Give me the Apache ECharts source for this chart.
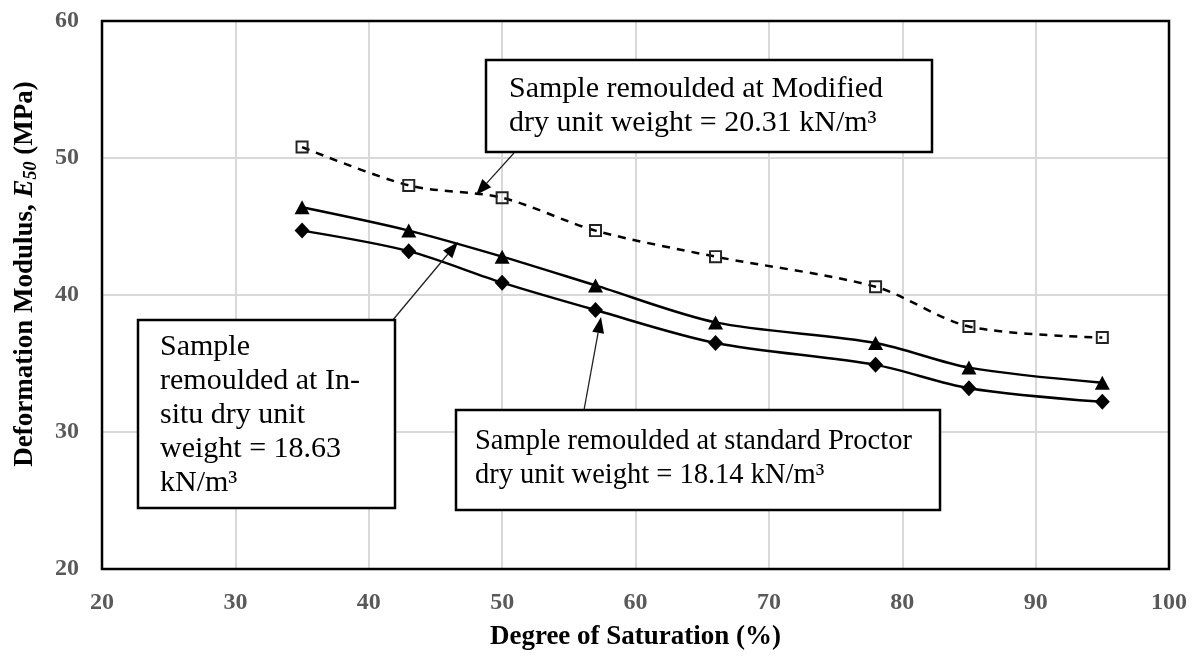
<!DOCTYPE html>
<html>
<head>
<meta charset="utf-8">
<script src="https://cdn.jsdelivr.net/npm/echarts@6/dist/echarts.min.js"></script>
<style>html,body{margin:0;padding:0;background:#fff;}#c{width:1201px;height:659px;}</style>
</head>
<body>
<div id="c"></div>
<script>
const saturation = [35, 43, 50, 57, 66, 78, 85, 95];
const modified = [50.8, 48.0, 47.1, 44.7, 42.8, 40.6, 37.7, 36.9];
const insitu = [46.4, 44.7, 42.8, 40.7, 38.0, 36.5, 34.7, 33.6];
const proctor = [44.7, 43.2, 40.9, 38.9, 36.5, 34.9, 33.2, 32.2];
const xTicks = [20, 30, 40, 50, 60, 70, 80, 90, 100];
const yTicks = [20, 30, 40, 50, 60];
const seriesNames = ['Modified', 'In-situ', 'Standard Proctor'];
const xTitle = 'Degree of Saturation (%)';
const yTitle = '{a|Deformation Modulus, }{i|E}{s|50}{a| (MPa)}';
const boxTexts = [
  'Sample remoulded at Modified\ndry unit weight = 20.31 kN/m³',
  'Sample\nremoulded at In-\nsitu dry unit\nweight = 18.63\nkN/m³',
  'Sample remoulded at standard Proctor\ndry unit weight = 18.14 kN/m³'
];

const FONT = '"Liberation Serif", "Times New Roman", serif';
const pair = (xs, ys) => xs.map((x, i) => [x, ys[i]]);

function arrow(x1, y1, x2, y2) {
  const dx = x2 - x1, dy = y2 - y1, L = Math.hypot(dx, dy);
  const ux = dx / L, uy = dy / L, hl = 16, hw = 6;
  const bx = x2 - ux * hl, by = y2 - uy * hl;
  return [
    { type: 'line', z: 100, shape: { x1, y1, x2: bx, y2: by }, style: { stroke: '#222', lineWidth: 1.3 } },
    { type: 'polygon', z: 100, shape: { points: [[x2, y2], [bx - uy * hw, by + ux * hw], [bx + uy * hw, by - ux * hw]] }, style: { fill: '#000' } }
  ];
}
function box(x, y, w, h, text, tx, ty, fs) {
  return [
    { type: 'rect', z: 100, shape: { x, y, width: w, height: h }, style: { fill: '#fff', stroke: '#000', lineWidth: 2.5 } },
    { type: 'text', z: 101, x: tx, y: ty, style: { text, font: fs + 'px ' + FONT, fill: '#000', lineHeight: 34 } }
  ];
}

const G = { left: 102, right: 32, top: 21, bottom: 90 };
const chart = echarts.init(document.getElementById('c'));
chart.setOption({
  animation: false,
  backgroundColor: '#fff',
  grid: { left: G.left, right: G.right, top: G.top, bottom: G.bottom },
  xAxis: {
    type: 'value', min: xTicks[0], max: xTicks[xTicks.length - 1], interval: 10,
    name: xTitle, nameLocation: 'middle', nameGap: 55,
    nameTextStyle: { fontFamily: FONT, fontWeight: 'bold', fontSize: 27, color: '#000' },
    axisLine: { show: false }, axisTick: { show: false },
    axisLabel: { fontFamily: FONT, fontWeight: 'bold', fontSize: 24, color: '#595959', margin: 22 },
    splitLine: { show: true, lineStyle: { color: '#d9d9d9', width: 2 } }
  },
  yAxis: {
    type: 'value', min: yTicks[0], max: yTicks[yTicks.length - 1], interval: 10,
    axisLine: { show: false }, axisTick: { show: false },
    axisLabel: { fontFamily: FONT, fontWeight: 'bold', fontSize: 24, color: '#595959', margin: 23 },
    splitLine: { show: true, lineStyle: { color: '#d9d9d9', width: 2 } }
  },
  series: [
    { name: seriesNames[0], type: 'line', data: pair(saturation, modified), smooth: 0.3,
      lineStyle: { color: '#000', width: 2.5, type: [8, 7] },
      symbol: 'path://M0,0H10V10H0Z M1.5,1.5V8.5H8.5V1.5Z', symbolSize: 13, itemStyle: { color: '#222' }, z: 3 },
    { name: seriesNames[1], type: 'line', data: pair(saturation, insitu), smooth: 0.3,
      lineStyle: { color: '#000', width: 2.5 },
      symbol: 'triangle', symbolSize: [15, 14], itemStyle: { color: '#000' }, z: 4 },
    { name: seriesNames[2], type: 'line', data: pair(saturation, proctor), smooth: 0.3,
      lineStyle: { color: '#000', width: 2.5 },
      symbol: 'diamond', symbolSize: [15, 16], itemStyle: { color: '#000' }, z: 4 }
  ],
  graphic: [
    { type: 'rect', z: 50, silent: true, shape: { x: G.left, y: G.top, width: 1201 - G.left - G.right, height: 659 - G.top - G.bottom },
      style: { fill: 'none', stroke: '#000', lineWidth: 2.5 } },
    { type: 'text', z: 50, x: 25, y: 274, rotation: Math.PI / 2,
      style: {
        text: yTitle, align: 'center', verticalAlign: 'middle',
        rich: {
          a: { fontFamily: FONT, fontWeight: 'bold', fontSize: 27, fill: '#000', lineHeight: 30 },
          i: { fontFamily: FONT, fontWeight: 'bold', fontStyle: 'italic', fontSize: 27, fill: '#000', lineHeight: 30 },
          s: { fontFamily: FONT, fontWeight: 'bold', fontStyle: 'italic', fontSize: 18, fill: '#000', lineHeight: 30, verticalAlign: 'bottom', padding: [8, 0, 0, 0] }
        }
      } },
    ...arrow(514, 153, 476, 195),
    ...arrow(392, 321, 458, 242),
    ...arrow(584, 410, 601, 317),
    ...box(486, 60, 446, 92, boxTexts[0], 509, 72, 30),
    ...box(138, 320, 257, 188, boxTexts[1], 160, 330, 30),
    ...box(456, 410, 484, 100, boxTexts[2], 475, 425, 28.5)
  ]
});
</script>
</body>
</html>
